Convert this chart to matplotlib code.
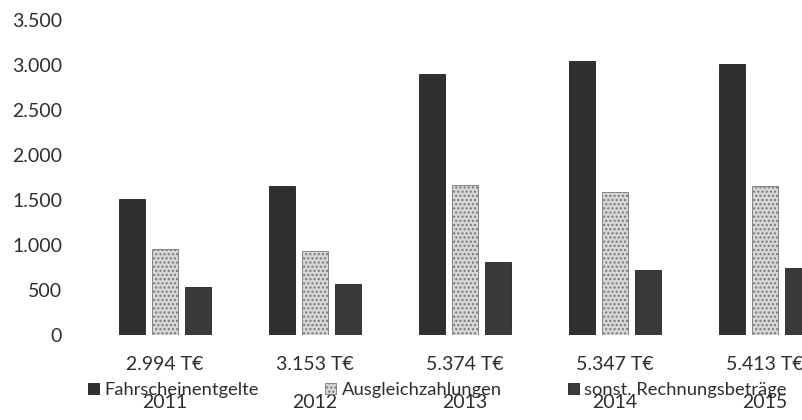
import numpy as np
import matplotlib
matplotlib.use('Agg')
import matplotlib.pyplot as plt

plt.rcParams['font.family'] = ['Lato', 'DejaVu Sans']

years = ['2011', '2012', '2013', '2014', '2015']
fahrschein = [1510, 1655, 2900, 3040, 3015]
ausgleich = [955, 930, 1665, 1590, 1650]
sonstige = [529, 568, 809, 717, 748]
totals = ['2.994 T€', '3.153 T€', '5.374 T€', '5.347 T€', '5.413 T€']
series_names = ['Fahrscheinentgelte', 'Ausgleichzahlungen', 'sonst. Rechnungsbeträge']
yticks = [0, 500, 1000, 1500, 2000, 2500, 3000, 3500]

txt = '#2e2e2e'

fig = plt.figure(figsize=(8.02, 4.2), dpi=100)
ax = fig.add_axes([90/802, 1 - 335/420, 750/802, 315/420])

x = np.arange(len(years))
w = 0.173
step = 0.22
ax.bar(x - step, fahrschein, w, color='#303030', edgecolor='#202020', linewidth=0.6, label=series_names[0])
ax.bar(x, ausgleich, w, color='#d6d6d6', edgecolor='#777777', linewidth=0.6, hatch='....', label=series_names[1])
ax.bar(x + step, sonstige, w, color='#3a3a3a', edgecolor='#222222', linewidth=0.6, label=series_names[2])

ax.set_xlim(-0.5, 4.5)
ax.set_ylim(0, 3500)
ax.set_yticks(yticks)
ax.set_yticklabels([f'{v:,}'.replace(',', '.') for v in yticks], fontsize=14, color=txt)
ax.tick_params(axis='y', length=0, pad=20)
ax.set_xticks([])
for s in ax.spines.values():
    s.set_visible(False)

# totals and years below each group (years overlap the legend as in the scan)
trans = ax.get_xaxis_transform()
for i in range(len(years)):
    ax.text(x[i], -30/315, totals[i], transform=trans, ha='center', va='center', fontsize=14, color=txt)
    ax.text(x[i], -68/315, years[i], transform=trans, ha='center', va='center', fontsize=14, color=txt)

fig.legend(loc='center left', bbox_to_anchor=(88/802, 1 - 390/420), ncol=3, frameon=False,
           fontsize=13.2, handlelength=0.6, handleheight=0.6, handletextpad=0.3,
           columnspacing=3.6, labelcolor=txt, borderaxespad=0, borderpad=0)

fig.savefig('out.png', dpi=100)
